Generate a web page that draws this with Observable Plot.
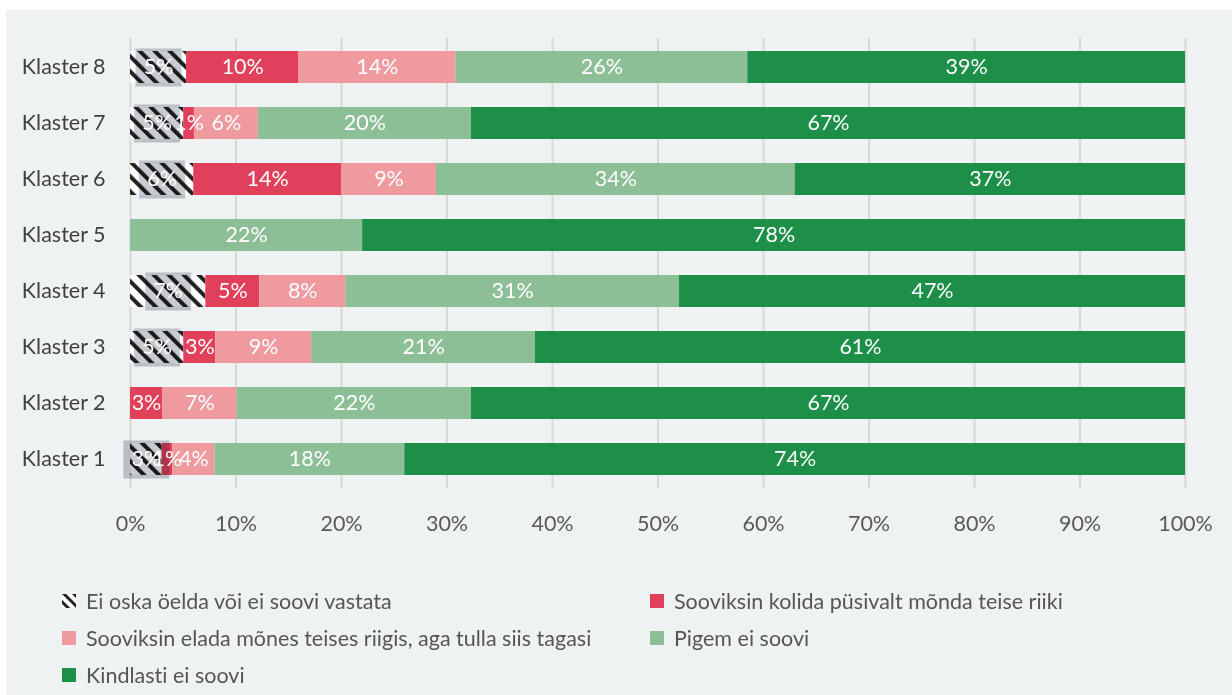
<!DOCTYPE html>
<html><head><meta charset="utf-8">
<script src="https://cdn.jsdelivr.net/npm/d3@7"></script>
<script src="https://cdn.jsdelivr.net/npm/@observablehq/plot@0.6"></script>
<style>
html,body{margin:0;padding:0;background:#fff;width:1232px;height:695px;overflow:hidden;font-family:Lato,sans-serif;font-variant-ligatures:none}
#panel{position:absolute;left:6px;top:10px;width:1226px;height:685px;background:#eff2f3}
#chart{position:absolute;left:0;top:0}
#chart svg text{font-variant-ligatures:none}
#legend{position:absolute;left:56px;top:572px;display:grid;grid-template-columns:588px 560px}
.item{height:37px;display:flex;align-items:center;font-size:21.5px;color:#555;font-variant-ligatures:none}
.sw{width:14px;height:14px;margin-right:10px;flex:none}
</style></head>
<body><div id="panel"><div id="chart"></div><div id="legend"></div></div>
<script>
const clusters = ["Klaster 8","Klaster 7","Klaster 6","Klaster 5","Klaster 4","Klaster 3","Klaster 2","Klaster 1"];
const categories = [
  "Ei oska öelda või ei soovi vastata",
  "Sooviksin kolida püsivalt mõnda teise riiki",
  "Sooviksin elada mõnes teises riigis, aga tulla siis tagasi",
  "Pigem ei soovi",
  "Kindlasti ei soovi"
];
const dontKnow      = [5, 5, 6, 0, 7, 5, 0, 3];
const movePermanent = [10, 1, 14, 0, 5, 3, 3, 1];
const liveAndReturn = [14, 6, 9, 0, 8, 9, 7, 4];
const ratherNot     = [26, 20, 34, 22, 31, 21, 22, 18];
const definitelyNot = [39, 67, 37, 78, 47, 61, 67, 74];
const tickValues = [0, 0.1, 0.2, 0.3, 0.4, 0.5, 0.6, 0.7, 0.8, 0.9, 1];
const colors = ["url(#hatch)", "#e0405a", "#ef9a9e", "#8dbf96", "#1e8f48"];

const series = [dontKnow, movePermanent, liveAndReturn, ratherNot, definitelyNot];
const data = [];
clusters.forEach((c, i) => categories.forEach((cat, j) => {
  const v = series[j][i];
  if (v > 0) data.push({cluster: c, category: cat, value: v});
}));

const stackOpts = {x: "value", y: "cluster", z: "category", order: categories, offset: "normalize"};
const boxSymbol = {draw(ctx) { ctx.moveTo(-23, -19); ctx.lineTo(23, -19); ctx.lineTo(23, 19); ctx.lineTo(-23, 19); ctx.closePath(); }};

const plot = Plot.plot({
  width: 1226, height: 540,
  marginLeft: 124, marginRight: 47, marginTop: 28, marginBottom: 62,
  style: {background: "transparent", fontFamily: "Lato, sans-serif", fontSize: "21px", color: "#595959"},
  x: {domain: [0, 1], label: null},
  y: {domain: clusters, paddingInner: 0.42, paddingOuter: 0.21, label: null},
  color: {domain: categories, range: colors},
  opacity: {domain: [0, 1], range: [0, 1]},
  marks: [
    Plot.gridX(tickValues, {stroke: "#d8d8d8", strokeOpacity: 1, strokeWidth: 2}),
    Plot.barX(data, Plot.stackX({...stackOpts, fill: "category"})),
    Plot.dot(data, Plot.stackX({...stackOpts, symbol: boxSymbol, fill: "#c8cbd0",
      fillOpacity: d => d.category === categories[0] ? 1 : 0, stroke: null, mixBlendMode: "multiply"})),
    Plot.text(data, Plot.stackX({...stackOpts, text: d => d.value + "%", fill: "white", fontSize: 21.5})),
    Plot.axisX(tickValues, {tickSize: 0, tickPadding: 27, tickFormat: d => Math.round(d * 100) + "%", fontSize: 21.5, color: "#595959", label: null}),
    Plot.axisY({tickSize: 0, tickPadding: 25, fontSize: 21.5, color: "#404040", label: null})
  ]
});

// hatch pattern definition
const ns = "http://www.w3.org/2000/svg";
const defs = document.createElementNS(ns, "defs");
defs.innerHTML = `<pattern id="hatch" patternUnits="userSpaceOnUse" width="10.6" height="10.6" patternTransform="rotate(-45)">
  <rect width="10.6" height="10.6" fill="#ffffff"/><rect x="0" y="0" width="4" height="10.6" fill="#222222"/></pattern>`;
plot.insertBefore(defs, plot.firstChild);
document.getElementById("chart").appendChild(plot);

// legend
const legend = document.getElementById("legend");
const legendOrder = [0, 1, 2, 3, 4];
legendOrder.forEach(j => {
  const item = document.createElement("div");
  item.className = "item";
  let sw;
  if (j === 0) {
    sw = `<svg class="sw" width="14" height="14" viewBox="0 0 14 14"><defs><pattern id="hatchL" patternUnits="userSpaceOnUse" width="7" height="7" patternTransform="rotate(-45)"><rect width="7" height="7" fill="#fff"/><rect width="3" height="7" fill="#222"/></pattern></defs><rect width="14" height="14" fill="url(#hatchL)"/></svg>`;
  } else {
    sw = `<div class="sw" style="background:${colors[j]}"></div>`;
  }
  item.innerHTML = sw + `<span>${categories[j]}</span>`;
  legend.appendChild(item);
});
</script></body></html>
